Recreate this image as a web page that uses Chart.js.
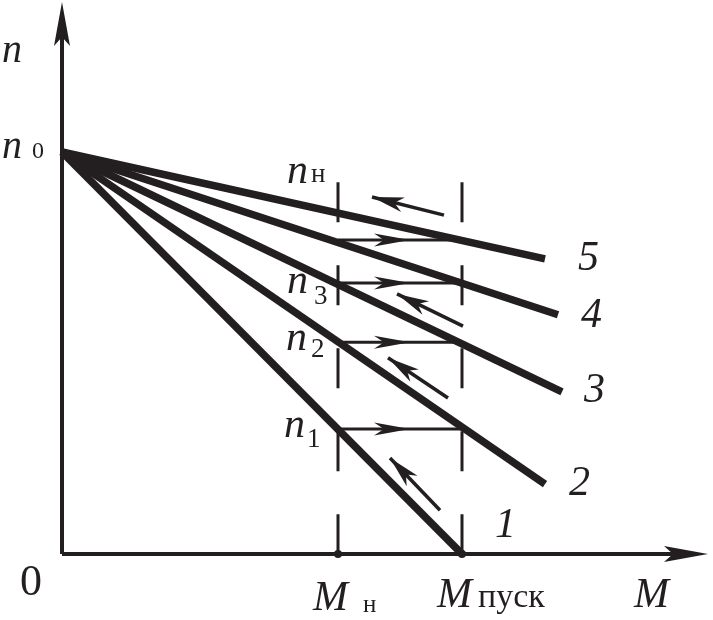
<!DOCTYPE html>
<html>
<head>
<meta charset="utf-8">
<script src="https://cdn.jsdelivr.net/npm/chart.js@4/dist/chart.umd.min.js"></script>
<style>
  html, body { margin: 0; padding: 0; background: #ffffff; }
  canvas { display: block; }
</style>
</head>
<body>
<canvas id="c" width="713" height="620"></canvas>
<script>
// ---------------- data ----------------
// torque axis M: Mн and Mпуск (Mпуск taken as 1)
const torqueLabels = ['н', 'пуск'];
const torqueValues = [0.69, 1.0];
// speed axis n: ideal no-load speed n0 = 1
const n0 = 1.0;
// switching speeds n1, n2, n3, nн
const speedSubscripts = ['1', '2', '3', 'н'];
const speedValues = [0.311, 0.527, 0.674, 0.781];
// characteristic lines 1..5: all start at (0, n0) and end at these points
const lineLabels = ['1', '2', '3', '4', '5'];
const lineEndM = [1.0, 1.2075, 1.25, 1.24, 1.2075];
const lineEndN = [0.0, 0.174, 0.403, 0.595, 0.734];
// small "return" arrows drawn along the characteristics (tail -> tip)
const returnTailM = [0.945, 0.965, 1.0025, 0.955];
const returnTailN = [0.109, 0.388, 0.567, 0.843];
const returnTipM  = [0.82, 0.815, 0.8375, 0.775];
const returnTipN  = [0.239, 0.488, 0.647, 0.888];
// step arrows: from Mн to Mпуск at each speed level, arrow head tip at this M
const stepHeadM = 0.87;
// dashed verticals top value, axis arrow tips
const dashTopN = 0.925;
const axisTipM = 1.615;
const axisTipN = 1.373;

// ---------------- styling ----------------
const INK = '#231f20';
const SERIF = '"Liberation Serif", "Times New Roman", serif';
// pixel geometry of the figure frame
const ORIGIN_X = 62, ORIGIN_Y = 554, PX_PER_M = 400, PX_PER_N = 402;

const datasets = [];
// axes
datasets.push({ data: [{x: 0, y: 0}, {x: axisTipM - 0.05, y: 0}], borderWidth: 4 });
datasets.push({ data: [{x: 0, y: 0}, {x: 0, y: axisTipN - 0.05}], borderWidth: 4 });
// dashed verticals
torqueValues.forEach(m => {
  datasets.push({ data: [{x: m, y: dashTopN}, {x: m, y: 0}], borderWidth: 3, borderDash: [40, 43] });
});
// characteristics
lineEndM.forEach((m, i) => {
  datasets.push({ data: [{x: 0, y: n0}, {x: m, y: lineEndN[i]}], borderWidth: 7.5 });
});
// step segments
speedValues.forEach(v => {
  datasets.push({ data: [{x: torqueValues[0], y: v}, {x: torqueValues[1], y: v}], borderWidth: 3 });
});
// return arrows shafts
returnTailM.forEach((m, i) => {
  datasets.push({ data: [{x: m, y: returnTailN[i]}, {x: returnTipM[i], y: returnTipN[i]}], borderWidth: 3.5 });
});
// dots on the M axis
datasets.push({
  data: torqueValues.map(m => ({x: m, y: 0})),
  showLine: false, pointRadius: 4, pointBackgroundColor: INK, pointBorderWidth: 0
});

datasets.forEach(d => {
  d.borderColor = INK;
  d.backgroundColor = INK;
  if (d.showLine !== false) { d.showLine = true; d.pointRadius = 0; }
  d.borderCapStyle = 'butt';
  d.clip = false;
  d.tension = 0;
});

function head(ctx, tx, ty, fx, fy, len, half, notch) {
  const a = Math.atan2(ty - fy, tx - fx);
  ctx.save();
  ctx.translate(tx, ty);
  ctx.rotate(a);
  ctx.beginPath();
  ctx.moveTo(0, 0);
  ctx.lineTo(-len, half);
  ctx.lineTo(-len + notch, 0);
  ctx.lineTo(-len, -half);
  ctx.closePath();
  ctx.fillStyle = INK;
  ctx.fill();
  ctx.restore();
}

const decor = {
  id: 'decor',
  afterDatasetsDraw(chart) {
    const ctx = chart.ctx;
    const xs = chart.scales.x, ys = chart.scales.y;
    const X = v => xs.getPixelForValue(v), Y = v => ys.getPixelForValue(v);
    // axis arrow heads
    head(ctx, X(axisTipM), Y(0), X(0), Y(0), 44, 8, 9);
    head(ctx, X(0), Y(axisTipN), X(0), Y(0), 44, 8, 9);
    // step arrow heads
    speedValues.forEach(v => head(ctx, X(stepHeadM), Y(v), X(0), Y(v), 36, 6.5, 10));
    // return arrow heads
    returnTipM.forEach((m, i) => head(ctx, X(m), Y(returnTipN[i]), X(returnTailM[i]), Y(returnTailN[i]), 32, 7.5, 9));

    // texts
    ctx.save();
    ctx.fillStyle = INK;
    ctx.textBaseline = 'alphabetic';
    ctx.textAlign = 'left';
    const it = s => 'italic ' + s + 'px ' + SERIF;
    const up = s => s + 'px ' + SERIF;
    // axis titles
    ctx.font = it(40); ctx.fillText('n', 2, 62);
    ctx.font = it(42); ctx.fillText('M', 634, 607);
    // n0
    ctx.font = it(40); ctx.fillText('n', 2, 158);
    ctx.font = up(24); ctx.fillText('0', 32, 158);
    // origin 0
    ctx.font = up(44); ctx.fillText('0', 20, 595);
    // speed labels
    const nPos = [[284, 437, 307, 447], [286, 350, 311, 357], [287, 293, 314, 304], [287, 183, 311, 182]];
    speedSubscripts.forEach((s, i) => {
      const p = nPos[i];
      ctx.font = it(42); ctx.fillText('n', p[0], p[1]);
      ctx.font = up(27); ctx.fillText(s, p[2], p[3]);
    });
    // torque labels
    const mPos = [[313, 610, 363, 612], [437, 607, 478, 607]];
    torqueLabels.forEach((s, i) => {
      const p = mPos[i];
      ctx.font = it(42); ctx.fillText('M', p[0], p[1]);
      ctx.font = up(i === 0 ? 25 : 34); ctx.fillText(s, p[2], p[3]);
    });
    // line numbers
    const lPos = [[495, 537], [569, 495], [584, 402], [581, 327], [578, 270]];
    ctx.font = it(42);
    lineLabels.forEach((s, i) => ctx.fillText(s, lPos[i][0], lPos[i][1]));
    ctx.restore();
  }
};

const chart = new Chart(document.getElementById('c'), {
  type: 'scatter',
  data: { datasets },
  options: {
    responsive: false,
    animation: false,
    devicePixelRatio: 1,
    layout: { padding: { left: 62, right: 0, top: 0, bottom: 66 } },
    plugins: { legend: { display: false }, tooltip: { enabled: false } },
    scales: {
      x: { type: 'linear', display: false, min: 0, max: 1.6275 },
      y: { type: 'linear', display: false, min: 0, max: 554 / 402 }
    }
  },
  plugins: [decor]
});

// fit the scale ranges so the figure frame lands where it does in the reference
(function fit() {
  const a = chart.chartArea;
  const xo = chart.options.scales.x, yo = chart.options.scales.y;
  xo.min = (a.left - ORIGIN_X) / PX_PER_M;
  xo.max = (a.right - ORIGIN_X) / PX_PER_M;
  yo.min = (ORIGIN_Y - a.bottom) / PX_PER_N;
  yo.max = yo.min + (a.bottom - a.top) / PX_PER_N;
  chart.update('none');
})();
</script>
</body>
</html>
